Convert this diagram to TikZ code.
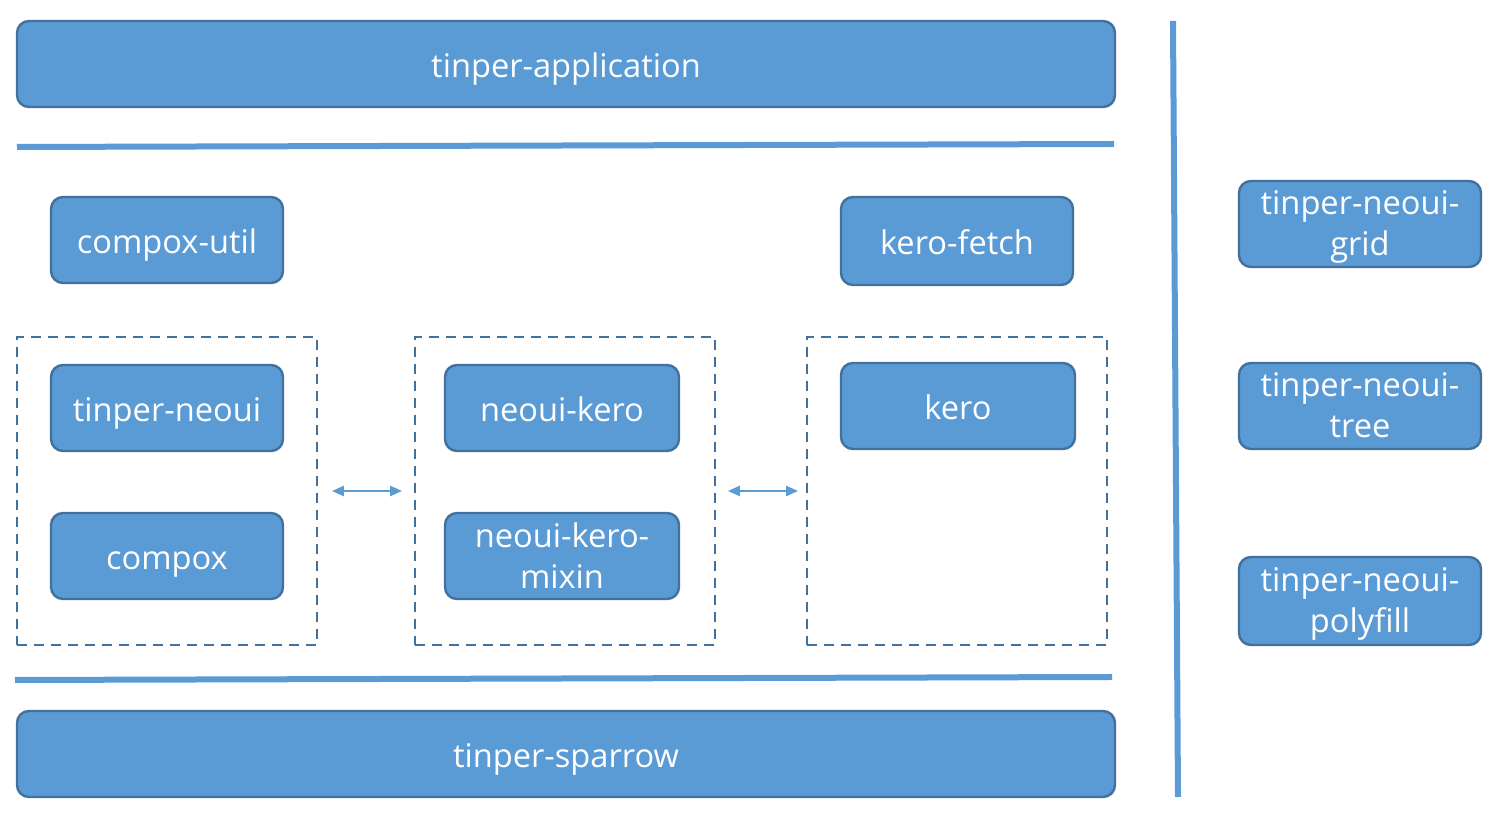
\documentclass[tikz,border=0pt]{standalone}
\usepackage{fontspec}
\setmainfont{Open Sans}
\usetikzlibrary{arrows.meta}
\definecolor{boxfill}{HTML}{5B9BD5}
\definecolor{boxedge}{HTML}{41719C}
\tikzset{
  blk/.style={draw=boxedge, line width=1.2pt, fill=boxfill, rounded corners=6pt, inner sep=0pt},
  blktext/.style={text=white, font=\fontsize{16.3}{20.5}\selectfont, align=center, inner sep=0pt,
    execute at begin node=\strut, execute at end node=\strut},
  grp/.style={draw=boxedge, line width=0.9pt, dash pattern=on 5pt off 3.5pt, inner sep=0pt,
    minimum width=150pt, minimum height=154pt},
  sep/.style={draw=boxfill, line width=3pt},
  link/.style={draw=boxfill, line width=1.2pt, {Triangle[width=5pt,length=6pt]}-{Triangle[width=5pt,length=6pt]}}
}
\begin{document}
\begin{tikzpicture}[x=0.5pt, y=-0.5pt]
\useasboundingbox[fill=white] (0,0) rectangle (1496,822);
% boxes: corner coordinates in pixels
\newcommand{\blkbox}[6]{% name, x1, y1, x2, y2, text
  \node[blk, minimum width={(#4-#2)*0.5pt}, minimum height={(#5-#3)*0.5pt},
    label={[blktext, yshift=-2.8pt]center:{#6}}] (#1) at ({(#2+#4)/2},{(#3+#5)/2}) {};}
\blkbox{app}{17}{21}{1115}{107}{tinper-application}
\blkbox{cutil}{51}{197}{283}{283}{compox-util}
\blkbox{kfetch}{841}{197}{1073}{285}{kero-fetch}
\blkbox{tneoui}{51}{365}{283}{451}{tinper-neoui}
\blkbox{compox}{51}{513}{283}{599}{compox}
\blkbox{nkero}{445}{365}{679}{451}{neoui-kero}
\blkbox{nkmixin}{445}{513}{679}{599}{neoui-kero-\\mixin}
\blkbox{kero}{841}{363}{1075}{449}{kero}
\blkbox{sparrow}{17}{711}{1115}{797}{tinper-sparrow}
\blkbox{grid}{1239}{181}{1481}{267}{tinper-neoui-\\grid}
\blkbox{tree}{1239}{363}{1481}{449}{tinper-neoui-\\tree}
\blkbox{polyfill}{1239}{557}{1481}{645}{tinper-neoui-\\polyfill}
% dashed groups
\node[grp] (g1) at (167,491) {};
\node[grp] (g2) at (565,491) {};
\node[grp] (g3) at (957,491) {};
% arrows between groups
\draw[link] ([xshift=7pt]g1.east) -- ([xshift=-6pt]g2.west);
\draw[link] ([xshift=6pt]g2.east) -- ([xshift=-4pt]g3.west);
% separator lines
\coordinate (s1a) at (17,147);
\coordinate (s1b) at (1114,144);
\coordinate (s2a) at (15,680);
\coordinate (s2b) at (1112,677);
\coordinate (v1) at (1173,21);
\coordinate (v2) at (1178,797);
\draw[sep] (s1a) -- (s1b);
\draw[sep] (s2a) -- (s2b);
\draw[sep] (v1) -- (v2);
\end{tikzpicture}
\end{document}
